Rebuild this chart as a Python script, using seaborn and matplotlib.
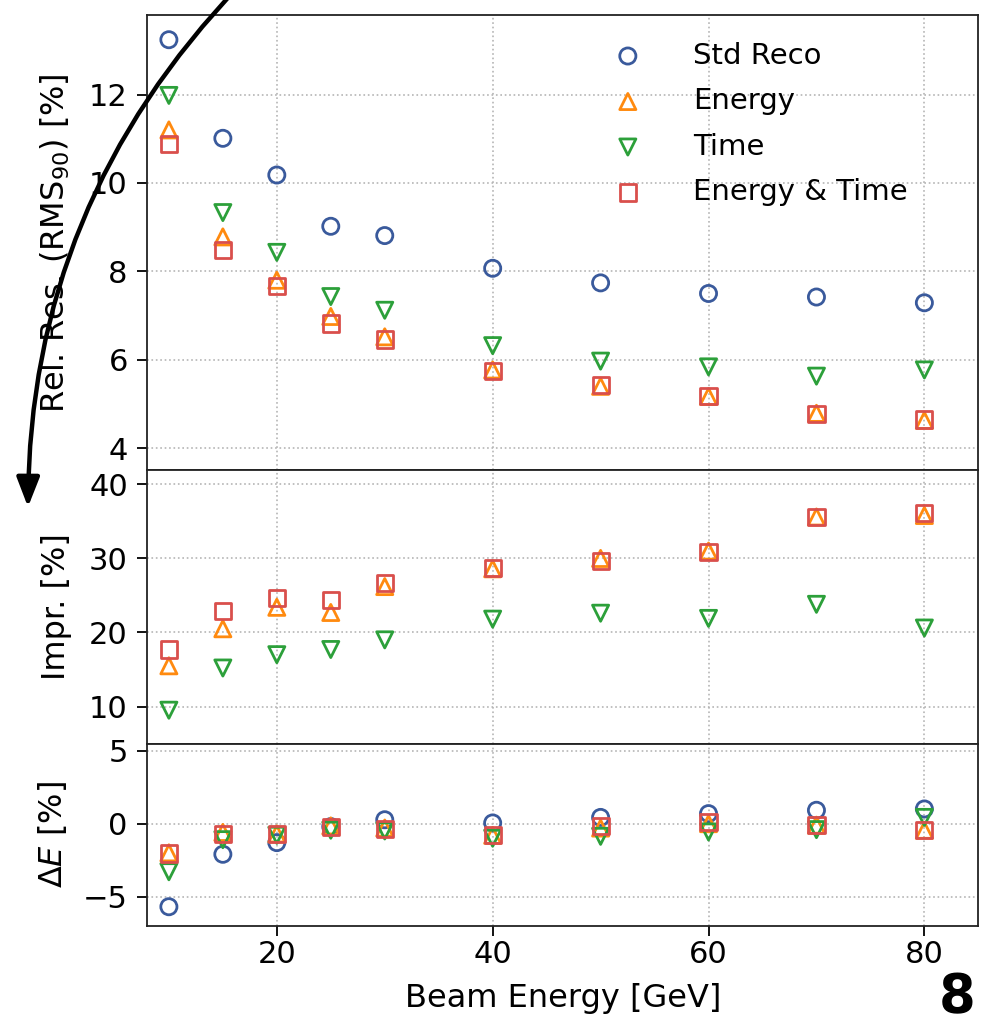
import matplotlib
matplotlib.use("Agg")
import pandas as pd
import matplotlib.pyplot as plt
import seaborn as sns
from matplotlib.patches import FancyArrowPatch

# beam energies (GeV) and reconstruction methods
beam_energy = [10, 15, 20, 25, 30, 40, 50, 60, 70, 80]
methods = ["Std Reco", "Energy", "Time", "Energy & Time"]

# relative resolution RMS90 [%]
res_std = [13.24, 11.01, 10.18, 9.02, 8.81, 8.07, 7.74, 7.50, 7.42, 7.29]
res_energy = [11.20, 8.78, 7.80, 6.98, 6.52, 5.77, 5.40, 5.17, 4.79, 4.63]
res_time = [11.98, 9.33, 8.43, 7.43, 7.12, 6.32, 5.97, 5.84, 5.63, 5.77]
res_both = [10.88, 8.49, 7.66, 6.82, 6.46, 5.75, 5.43, 5.18, 4.78, 4.65]

# improvement w.r.t. std reco [%]
impr_energy = [15.5, 20.5, 23.4, 22.7, 26.2, 28.6, 30.0, 31.0, 35.6, 35.8]
impr_time = [9.5, 15.2, 17.0, 17.7, 19.0, 21.8, 22.6, 21.9, 23.8, 20.6]
impr_both = [17.7, 22.9, 24.7, 24.4, 26.7, 28.7, 29.6, 30.9, 35.6, 36.1]

# energy bias Delta E [%]
dE_std = [-5.7, -2.1, -1.3, -0.2, 0.27, 0.05, 0.43, 0.69, 0.92, 1.01]
dE_energy = [-2.0, -0.6, -0.7, -0.15, -0.3, -0.8, -0.3, 0.0, -0.1, -0.45]
dE_time = [-3.3, -1.1, -0.8, -0.45, -0.5, -1.0, -0.87, -0.57, -0.41, 0.43]
dE_both = [-2.05, -0.7, -0.7, -0.2, -0.34, -0.76, -0.18, 0.14, -0.09, -0.43]

colors = {"Std Reco": "#3a5a9c", "Energy": "#ff8a0f", "Time": "#2ca03a", "Energy & Time": "#d94f4c"}
markers = {"Std Reco": "o", "Energy": "^", "Time": "v", "Energy & Time": "s"}


def long_form(series):
    rows = []
    for m, vals in series.items():
        for e, v in zip(beam_energy, vals):
            rows.append({"energy": e, "value": v, "method": m})
    return pd.DataFrame(rows)


res_df = long_form({"Std Reco": res_std, "Energy": res_energy, "Time": res_time, "Energy & Time": res_both})
impr_df = long_form({"Energy": impr_energy, "Time": impr_time, "Energy & Time": impr_both})
dE_df = long_form({"Std Reco": dE_std, "Energy": dE_energy, "Time": dE_time, "Energy & Time": dE_both})

sns.set_style("ticks")
plt.rcParams["font.family"] = ["DejaVu Sans"]
plt.rcParams["mathtext.fontset"] = "dejavusans"
plt.rcParams["text.color"] = "black"
plt.rcParams["axes.labelcolor"] = "black"
plt.rcParams["xtick.color"] = "black"
plt.rcParams["ytick.color"] = "black"

fig, axes = plt.subplots(3, 1, sharex=True, figsize=(9.98, 10.25), dpi=100,
                         gridspec_kw=dict(height_ratios=[5, 3, 2], hspace=0))
fig.subplots_adjust(left=0.1476, right=0.9803, top=0.9854, bottom=0.0969)

for ax, df in zip(axes, [res_df, impr_df, dE_df]):
    for m in methods:
        sub = df[df["method"] == m]
        if sub.empty:
            continue
        sns.scatterplot(data=sub, x="energy", y="value", ax=ax, color=colors[m],
                        marker=markers[m], s=135, facecolor="none", edgecolor=colors[m],
                        linewidth=2.0, label=m, legend=False, zorder=3)
    ax.grid(True, linestyle=":", color="#b5b5b5", linewidth=1.2)
    ax.set_axisbelow(True)
    for sp in ax.spines.values():
        sp.set_color("#222222")
        sp.set_linewidth(1.3)
    ax.tick_params(axis="both", labelsize=22, length=7, width=1.3)
    ax.tick_params(axis="y", pad=7)

ax0, ax1, ax2 = axes
ax0.set_ylim(3.5, 13.8)
ax0.set_yticks([4, 6, 8, 10, 12])
ax1.set_ylim(5, 41.9)
ax1.set_yticks([10, 20, 30, 40])
ax2.set_ylim(-7, 5.5)
ax2.set_yticks([-5, 0, 5])
ax2.set_xlim(8, 85)
ax2.set_xticks([20, 40, 60, 80])
ax0.tick_params(axis="x", length=0)
ax1.tick_params(axis="x", length=0)

ax0.set_ylabel(r"Rel. Res. (RMS$_{90}$) [%]", fontsize=23, labelpad=12)
ax1.set_ylabel("Impr. [%]", fontsize=23, labelpad=12)
ax2.set_ylabel(r"$\Delta E$ [%]", fontsize=23, labelpad=10)
ax2.set_xlabel("Beam Energy [GeV]", fontsize=23, labelpad=10)

ax0.legend(loc="upper right", bbox_to_anchor=(1 - 44 / 831, 0.999), frameon=False,
           fontsize=21, handletextpad=1.25, labelspacing=0.6)

# curved arrow overlay from the slide
arrow = FancyArrowPatch((240 / 998, 1 + 15 / 1025), (28 / 998, 1 - 507 / 1025),
                        transform=fig.transFigure, connectionstyle="arc3,rad=0.2",
                        arrowstyle="-|>,head_length=0.9,head_width=0.35", mutation_scale=20,
                        lw=3.2, color="black", shrinkA=0, shrinkB=0)
fig.add_artist(arrow)

# slide page number
fig.text(957 / 998, 1 - 1012 / 1025, "8", fontsize=38, fontweight="bold", ha="center", va="baseline")

fig.savefig("out.png", dpi=100)
